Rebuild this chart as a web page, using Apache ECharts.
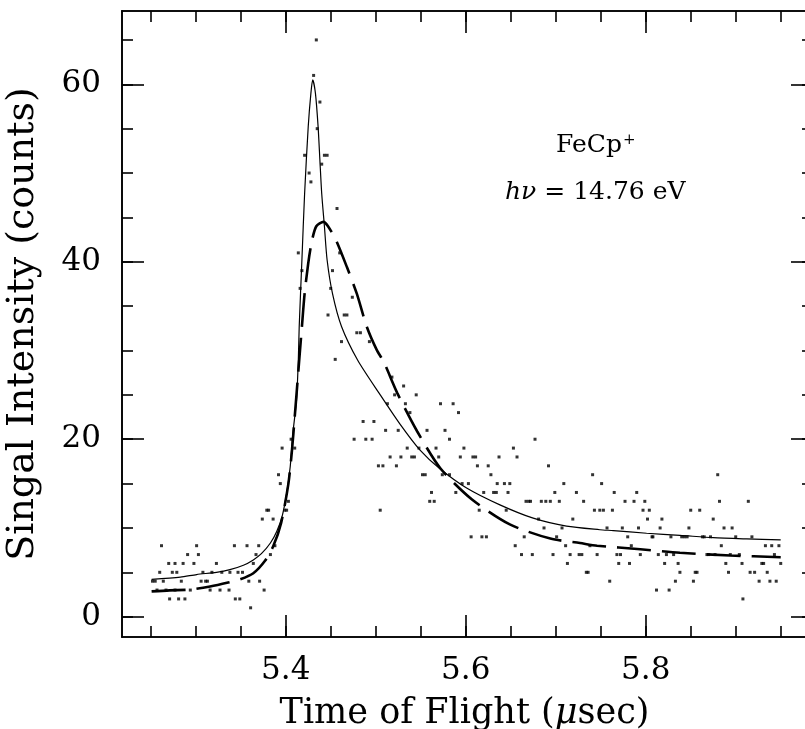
<!DOCTYPE html>
<html>
<head>
<meta charset="utf-8">
<title>FeCp+ time of flight</title>
<script src="https://cdn.jsdelivr.net/npm/echarts/dist/echarts.min.js"></script>
<style>
  html, body { margin: 0; padding: 0; background: #fff; }
  #chart { width: 805px; height: 729px; }
</style>
</head>
<body>
<div id="chart"></div>
<script>
// axis ranges
var X_MIN = 5.2181, X_MAX = 5.9792;
var Y_MIN = -2.29, Y_MAX = 68.26;

var xMajorTicks = [5.4, 5.6, 5.8];
var xMinorTicks = [5.25, 5.3, 5.35, 5.4, 5.45, 5.5, 5.55, 5.6, 5.65, 5.7, 5.75, 5.8, 5.85, 5.9, 5.95];
var yMajorTicks = [0, 20, 40, 60];
var yMinorTicks = [0, 5, 10, 15, 20, 25, 30, 35, 40, 45, 50, 55, 60, 65];

// measured counts [time (usec), counts]
var countsBaseline = [
  [5.262,8],[5.301,8],[5.343,8],[5.357,8],[5.370,8],[5.388,8],
  [5.291,7],[5.303,7],[5.367,7],[5.383,7],
  [5.270,6],[5.277,6],[5.286,6],[5.298,6],[5.323,6],[5.364,6],
  [5.260,5],[5.274,5],[5.279,5],[5.308,5],[5.318,5],[5.329,5],[5.338,5],[5.347,5],[5.352,5],
  [5.252,4],[5.255,4],[5.264,4],[5.284,4],[5.306,4],[5.311,4],[5.313,4],[5.359,4],[5.371,4],
  [5.257,3],[5.267,3],[5.277,3],[5.294,3],[5.316,3],[5.327,3],[5.337,3],[5.376,3],
  [5.271,2],[5.281,2],[5.288,2],[5.344,2],[5.349,2],
  [5.361,1]
];
var countsPeak = [
  [5.374,11],[5.386,11],[5.379,12],[5.381,12],[5.399,12],[5.401,12],[5.403,13],
  [5.394,15],[5.392,16],[5.396,19],[5.410,19],[5.406,20],
  [5.414,41],[5.416,37],[5.418,39],[5.421,52],[5.426,50],[5.428,49],[5.431,61],
  [5.434,65],[5.435,55],[5.438,58],[5.440,51],[5.443,52],[5.446,52],[5.447,34],
  [5.450,37],[5.452,39],[5.455,29],[5.457,46],[5.460,41],[5.462,31],[5.465,34],
  [5.468,34],[5.474,36],[5.479,32],[5.483,32],[5.493,31],
  [5.476,20],[5.486,22],[5.489,20],[5.496,20],[5.498,22],[5.503,17],[5.505,12],
  [5.508,17],[5.511,21],[5.513,24],[5.516,18],[5.518,27],[5.521,25],[5.523,17],[5.525,21]
];
var countsTail = [
  [5.531,26],[5.545,25],[5.533,24],[5.572,24],[5.586,24],[5.538,23],[5.592,23],
  [5.557,21],[5.577,21],[5.582,20],[5.677,20],
  [5.535,19],[5.548,19],[5.567,19],[5.598,19],[5.653,19],
  [5.528,18],[5.540,18],[5.543,18],[5.570,18],[5.594,18],[5.608,18],[5.611,18],[5.637,18],[5.657,18],
  [5.613,17],[5.625,17],[5.692,17],
  [5.552,16],[5.555,16],[5.574,16],[5.582,16],[5.628,16],[5.741,16],[5.880,16],
  [5.596,15],[5.603,15],[5.635,15],[5.643,15],[5.649,15],[5.709,15],[5.751,15],
  [5.562,14],[5.589,14],[5.620,14],[5.631,14],[5.634,14],[5.647,14],[5.699,14],[5.723,14],[5.765,14],[5.790,14],
  [5.560,13],[5.565,13],[5.667,13],[5.670,13],[5.672,13],[5.684,13],[5.689,13],[5.694,13],[5.704,13],
  [5.731,13],[5.777,13],[5.787,13],[5.799,13],[5.882,13],[5.914,13],
  [5.615,12],[5.645,12],[5.743,12],[5.749,12],[5.753,12],[5.763,12],[5.797,12],[5.804,12],[5.850,12],[5.860,12],
  [5.681,11],[5.719,11],[5.802,11],[5.818,11],[5.875,11],
  [5.687,10],[5.707,10],[5.757,10],[5.774,10],[5.792,10],[5.816,10],[5.848,10],[5.887,10],[5.896,10],
  [5.606,9],[5.618,9],[5.623,9],[5.665,9],[5.701,9],[5.780,9],[5.807,9],[5.808,9],[5.828,9],[5.840,9],
  [5.843,9],[5.846,9],[5.863,9],[5.865,9],[5.872,9],[5.900,9],[5.918,9],
  [5.655,8],[5.711,8],[5.738,8],[5.784,8],[5.884,8],[5.933,8],[5.940,8],[5.948,8],
  [5.662,7],[5.674,7],[5.697,7],[5.716,7],[5.726,7],[5.729,7],[5.746,7],[5.768,7],[5.772,7],[5.794,7],
  [5.814,7],[5.823,7],[5.831,7],[5.868,7],[5.870,7],[5.877,7],[5.894,7],[5.904,7],[5.943,7],
  [5.713,6],[5.770,6],[5.782,6],[5.821,6],[5.836,6],[5.889,6],[5.907,6],[5.929,6],[5.931,6],[5.950,6],
  [5.734,5],[5.736,5],[5.838,5],[5.855,5],[5.857,5],[5.892,5],[5.916,5],[5.921,5],[5.935,5],
  [5.760,4],[5.833,4],[5.853,4],[5.926,4],[5.938,4],[5.945,4],
  [5.812,3],[5.826,3],
  [5.908,2]
];

// fitted curves
var fitSolid = [
  [5.251,4.2],[5.283,4.45],[5.301,4.75],[5.323,5.0],[5.338,5.3],[5.353,5.8],[5.364,6.4],
  [5.373,7.1],[5.383,8.3],[5.390,9.6],[5.396,11.3],[5.401,13.9],[5.405,16.9],[5.408,20.7],
  [5.412,24.4],[5.414,28.9],[5.415,32.7],[5.418,40.2],[5.421,47.7],[5.425,55.2],[5.428,59.0],
  [5.430,60.5],[5.433,59.0],[5.436,55.2],[5.438,51.4],[5.440,47.7],[5.443,44.0],[5.446,40.2],
  [5.452,36.4],[5.462,32.7],[5.480,28.9],[5.505,25.0],[5.527,21.7],[5.549,18.8],[5.571,16.7],
  [5.601,14.5],[5.638,12.6],[5.675,11.1],[5.712,10.2],[5.749,9.8],[5.764,9.7],[5.801,9.4],
  [5.838,9.17],[5.875,8.9],[5.912,8.76],[5.950,8.65]
];
var fitDashed = [
  [5.251,2.85],[5.271,2.97],[5.294,3.05],[5.316,3.4],[5.336,3.85],[5.349,4.2],[5.364,4.9],
  [5.377,6.3],[5.386,7.9],[5.395,10.6],[5.403,15.0],[5.407,18.8],[5.410,22.5],[5.415,28.9],
  [5.418,32.7],[5.421,36.4],[5.425,39.8],[5.429,42.3],[5.434,44.0],[5.442,44.5],[5.447,44.0],
  [5.456,42.4],[5.468,39.4],[5.479,36.4],[5.490,32.7],[5.501,30.1],[5.509,28.7],[5.524,25.2],
  [5.546,20.9],[5.572,16.7],[5.607,13.2],[5.649,10.4],[5.694,8.8],[5.727,8.3],[5.746,8.0],
  [5.794,7.6],[5.838,7.2],[5.894,6.9],[5.950,6.7]
];

var FONT = 'DejaVu Serif';
var INK = '#000';

function tickAxis(pos, min, max, ticks, len, extra) {
  var ax = {
    type: 'value', position: pos, min: min, max: max,
    axisLine: { show: true, onZero: false, lineStyle: { color: INK, width: 1.6 } },
    axisTick: { show: true, inside: true, length: len, customValues: ticks,
                lineStyle: { color: INK, width: 1.6 } },
    axisLabel: { show: false },
    splitLine: { show: false }
  };
  for (var k in extra) ax[k] = extra[k];
  return ax;
}

var chart = echarts.init(document.getElementById('chart'), null, { renderer: 'canvas' });

var option = {
  animation: false,
  backgroundColor: '#fff',
  grid: { left: 122, top: 11, width: 685, height: 626, containLabel: false, outerBoundsMode: 'none' },
  xAxis: [
    tickAxis('bottom', X_MIN, X_MAX, xMajorTicks, 22, {
      name: 'Time of Flight ({m|\u03bc}sec)', nameLocation: 'middle', nameGap: 59,
      nameTextStyle: { fontFamily: FONT, fontSize: 35, color: INK,
        rich: { m: { fontFamily: FONT, fontSize: 35, fontStyle: 'italic', color: INK } } },
      axisLabel: { show: true, customValues: xMajorTicks, margin: 18,
        fontFamily: FONT, fontSize: 31, color: INK,
        formatter: function (v) { return v.toFixed(1); } }
    }),
    tickAxis('bottom', X_MIN, X_MAX, xMinorTicks, 11, {}),
    tickAxis('top', X_MIN, X_MAX, xMajorTicks, 22, {}),
    tickAxis('top', X_MIN, X_MAX, xMinorTicks, 11, {})
  ],
  yAxis: [
    tickAxis('left', Y_MIN, Y_MAX, yMajorTicks, 22, {
      name: 'Singal Intensity (counts)', nameLocation: 'middle', nameGap: 80, nameRotate: 90,
      nameTextStyle: { fontFamily: FONT, fontSize: 38, color: INK },
      axisLabel: { show: true, customValues: yMajorTicks, margin: 21,
        fontFamily: FONT, fontSize: 31, color: INK }
    }),
    tickAxis('left', Y_MIN, Y_MAX, yMinorTicks, 11, {}),
    tickAxis('right', Y_MIN, Y_MAX, yMajorTicks, 16, {}),
    tickAxis('right', Y_MIN, Y_MAX, yMinorTicks, 5, {})
  ],
  graphic: [
    { type: 'text', left: 556, top: 133,
      style: { text: 'FeCp{s|+}', font: '25px "DejaVu Serif"', fill: INK,
        rich: { s: { fontSize: 15, fontFamily: FONT, verticalAlign: 'top', padding: [0, 0, 10, 1] } } } },
    { type: 'text', left: 505, top: 180,
      style: { text: '{i|h\u03bd} = 14.76 eV', font: '25px "DejaVu Serif"', fill: INK,
        rich: { i: { fontStyle: 'italic', fontSize: 25, fontFamily: FONT } } } }
  ],
  series: [
    { type: 'scatter', name: 'baseline', data: countsBaseline, symbol: 'rect', symbolSize: 3,
      itemStyle: { color: INK } },
    { type: 'scatter', name: 'peak', data: countsPeak, symbol: 'rect', symbolSize: 3,
      itemStyle: { color: INK } },
    { type: 'scatter', name: 'tail', data: countsTail, symbol: 'rect', symbolSize: 3,
      itemStyle: { color: INK } },
    { type: 'line', name: 'fit1', data: fitSolid, showSymbol: false, smooth: 0.25,
      lineStyle: { color: INK, width: 1.2 } },
    { type: 'line', name: 'fit2', data: fitDashed, showSymbol: false, smooth: 0.25,
      lineStyle: { color: INK, width: 2.6, type: [34, 11] } }
  ]
};

chart.setOption(option);
</script>
</body>
</html>
